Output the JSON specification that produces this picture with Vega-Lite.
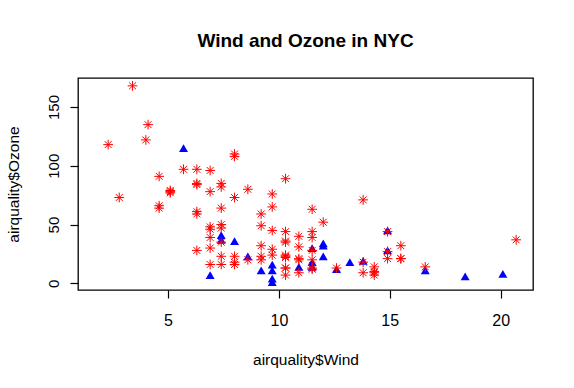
{
  "$schema": "https://vega.github.io/schema/vega-lite/v6.json",
  "autosize": {"type": "none"},
  "padding": {"left": 78, "top": 78, "right": 41, "bottom": 98},
  "width": 455,
  "height": 212,
  "background": "white",
  "title": {
    "text": "Wind and Ozone in NYC",
    "font": "Liberation Sans",
    "fontSize": 19,
    "fontWeight": "bold",
    "color": "black",
    "anchor": "middle",
    "offset": 27
  },
  "config": {
    "view": {"stroke": "black", "strokeWidth": 1.3},
    "axis": {
      "domain": false,
      "grid": false,
      "ticks": true,
      "tickColor": "black",
      "tickSize": 8,
      "tickWidth": 1.2,
      "labelFont": "Liberation Sans",
      "labelColor": "black",
      "titleFont": "Liberation Sans",
      "titleFontSize": 15.5,
      "titleFontWeight": "normal",
      "titleColor": "black"
    }
  },
  "data": {
    "values": [
      {"Wind": 7.4, "Ozone": 41, "Month": 5},
      {"Wind": 8.0, "Ozone": 36, "Month": 5},
      {"Wind": 12.6, "Ozone": 12, "Month": 5},
      {"Wind": 11.5, "Ozone": 18, "Month": 5},
      {"Wind": 14.9, "Ozone": 28, "Month": 5},
      {"Wind": 8.6, "Ozone": 23, "Month": 5},
      {"Wind": 13.8, "Ozone": 19, "Month": 5},
      {"Wind": 20.1, "Ozone": 8, "Month": 5},
      {"Wind": 6.9, "Ozone": 7, "Month": 5},
      {"Wind": 9.7, "Ozone": 16, "Month": 5},
      {"Wind": 9.2, "Ozone": 11, "Month": 5},
      {"Wind": 10.9, "Ozone": 14, "Month": 5},
      {"Wind": 13.2, "Ozone": 18, "Month": 5},
      {"Wind": 11.5, "Ozone": 14, "Month": 5},
      {"Wind": 12.0, "Ozone": 34, "Month": 5},
      {"Wind": 18.4, "Ozone": 6, "Month": 5},
      {"Wind": 11.5, "Ozone": 30, "Month": 5},
      {"Wind": 9.7, "Ozone": 11, "Month": 5},
      {"Wind": 9.7, "Ozone": 1, "Month": 5},
      {"Wind": 16.6, "Ozone": 11, "Month": 5},
      {"Wind": 9.7, "Ozone": 4, "Month": 5},
      {"Wind": 12.0, "Ozone": 32, "Month": 5},
      {"Wind": 12.0, "Ozone": 23, "Month": 5},
      {"Wind": 14.9, "Ozone": 45, "Month": 5},
      {"Wind": 5.7, "Ozone": 115, "Month": 5},
      {"Wind": 7.4, "Ozone": 37, "Month": 5},
      {"Wind": 9.7, "Ozone": 29, "Month": 6},
      {"Wind": 13.8, "Ozone": 71, "Month": 6},
      {"Wind": 11.5, "Ozone": 39, "Month": 6},
      {"Wind": 8.0, "Ozone": 23, "Month": 6},
      {"Wind": 14.9, "Ozone": 21, "Month": 6},
      {"Wind": 20.7, "Ozone": 37, "Month": 6},
      {"Wind": 9.2, "Ozone": 20, "Month": 6},
      {"Wind": 11.5, "Ozone": 12, "Month": 6},
      {"Wind": 10.3, "Ozone": 13, "Month": 6},
      {"Wind": 4.1, "Ozone": 135, "Month": 7},
      {"Wind": 9.2, "Ozone": 49, "Month": 7},
      {"Wind": 9.2, "Ozone": 32, "Month": 7},
      {"Wind": 4.6, "Ozone": 64, "Month": 7},
      {"Wind": 10.9, "Ozone": 40, "Month": 7},
      {"Wind": 5.1, "Ozone": 77, "Month": 7},
      {"Wind": 6.3, "Ozone": 97, "Month": 7},
      {"Wind": 5.7, "Ozone": 97, "Month": 7},
      {"Wind": 7.4, "Ozone": 85, "Month": 7},
      {"Wind": 14.3, "Ozone": 10, "Month": 7},
      {"Wind": 14.9, "Ozone": 27, "Month": 7},
      {"Wind": 14.3, "Ozone": 7, "Month": 7},
      {"Wind": 6.9, "Ozone": 48, "Month": 7},
      {"Wind": 10.3, "Ozone": 35, "Month": 7},
      {"Wind": 6.3, "Ozone": 61, "Month": 7},
      {"Wind": 5.1, "Ozone": 79, "Month": 7},
      {"Wind": 11.5, "Ozone": 63, "Month": 7},
      {"Wind": 6.9, "Ozone": 16, "Month": 7},
      {"Wind": 8.6, "Ozone": 80, "Month": 7},
      {"Wind": 8.0, "Ozone": 108, "Month": 7},
      {"Wind": 8.6, "Ozone": 20, "Month": 7},
      {"Wind": 12.0, "Ozone": 52, "Month": 7},
      {"Wind": 7.4, "Ozone": 82, "Month": 7},
      {"Wind": 7.4, "Ozone": 50, "Month": 7},
      {"Wind": 7.4, "Ozone": 64, "Month": 7},
      {"Wind": 9.2, "Ozone": 59, "Month": 7},
      {"Wind": 6.9, "Ozone": 39, "Month": 8},
      {"Wind": 13.8, "Ozone": 9, "Month": 8},
      {"Wind": 7.4, "Ozone": 16, "Month": 8},
      {"Wind": 6.9, "Ozone": 78, "Month": 8},
      {"Wind": 7.4, "Ozone": 35, "Month": 8},
      {"Wind": 4.6, "Ozone": 66, "Month": 8},
      {"Wind": 4.0, "Ozone": 122, "Month": 8},
      {"Wind": 10.3, "Ozone": 89, "Month": 8},
      {"Wind": 8.0, "Ozone": 110, "Month": 8},
      {"Wind": 11.5, "Ozone": 44, "Month": 8},
      {"Wind": 11.5, "Ozone": 28, "Month": 8},
      {"Wind": 9.7, "Ozone": 65, "Month": 8},
      {"Wind": 10.3, "Ozone": 22, "Month": 8},
      {"Wind": 6.3, "Ozone": 59, "Month": 8},
      {"Wind": 7.4, "Ozone": 23, "Month": 8},
      {"Wind": 10.9, "Ozone": 31, "Month": 8},
      {"Wind": 10.3, "Ozone": 44, "Month": 8},
      {"Wind": 15.5, "Ozone": 21, "Month": 8},
      {"Wind": 14.3, "Ozone": 9, "Month": 8},
      {"Wind": 9.7, "Ozone": 45, "Month": 8},
      {"Wind": 3.4, "Ozone": 168, "Month": 8},
      {"Wind": 8.0, "Ozone": 73, "Month": 8},
      {"Wind": 9.7, "Ozone": 76, "Month": 8},
      {"Wind": 2.3, "Ozone": 118, "Month": 8},
      {"Wind": 6.3, "Ozone": 84, "Month": 8},
      {"Wind": 6.3, "Ozone": 85, "Month": 8},
      {"Wind": 6.9, "Ozone": 96, "Month": 9},
      {"Wind": 5.1, "Ozone": 78, "Month": 9},
      {"Wind": 2.8, "Ozone": 73, "Month": 9},
      {"Wind": 4.6, "Ozone": 91, "Month": 9},
      {"Wind": 7.4, "Ozone": 47, "Month": 9},
      {"Wind": 15.5, "Ozone": 32, "Month": 9},
      {"Wind": 10.9, "Ozone": 20, "Month": 9},
      {"Wind": 10.3, "Ozone": 23, "Month": 9},
      {"Wind": 10.9, "Ozone": 21, "Month": 9},
      {"Wind": 9.7, "Ozone": 24, "Month": 9},
      {"Wind": 14.9, "Ozone": 44, "Month": 9},
      {"Wind": 15.5, "Ozone": 21, "Month": 9},
      {"Wind": 6.3, "Ozone": 28, "Month": 9},
      {"Wind": 10.9, "Ozone": 9, "Month": 9},
      {"Wind": 11.5, "Ozone": 13, "Month": 9},
      {"Wind": 6.9, "Ozone": 46, "Month": 9},
      {"Wind": 13.8, "Ozone": 18, "Month": 9},
      {"Wind": 10.3, "Ozone": 13, "Month": 9},
      {"Wind": 10.3, "Ozone": 24, "Month": 9},
      {"Wind": 8.0, "Ozone": 16, "Month": 9},
      {"Wind": 12.6, "Ozone": 13, "Month": 9},
      {"Wind": 9.2, "Ozone": 23, "Month": 9},
      {"Wind": 10.3, "Ozone": 36, "Month": 9},
      {"Wind": 10.3, "Ozone": 7, "Month": 9},
      {"Wind": 16.6, "Ozone": 14, "Month": 9},
      {"Wind": 6.9, "Ozone": 30, "Month": 9},
      {"Wind": 14.3, "Ozone": 14, "Month": 9},
      {"Wind": 8.0, "Ozone": 18, "Month": 9},
      {"Wind": 11.5, "Ozone": 20, "Month": 9}
    ]
  },
  "encoding": {
    "x": {
      "field": "Wind",
      "type": "quantitative",
      "scale": {"domain": [0.94, 21.46], "nice": false, "zero": false},
      "axis": {
        "values": [5, 10, 15, 20],
        "title": "airquality$Wind",
        "labelFontSize": 16,
        "labelPadding": 14,
        "titlePadding": 24
      }
    },
    "y": {
      "field": "Ozone",
      "type": "quantitative",
      "scale": {"domain": [-5.68, 174.68], "nice": false, "zero": false},
      "axis": {
        "values": [0, 50, 100, 150],
        "title": "airquality$Ozone",
        "labelFontSize": 15,
        "labelAngle": 270,
        "labelAlign": "center",
        "labelBaseline": "bottom",
        "labelPadding": 9,
        "titlePadding": 25
      }
    }
  },
  "layer": [
    {
      "transform": [{"filter": "datum.Month == 5"}],
      "mark": {
        "type": "point",
        "shape": "triangle-up",
        "filled": true,
        "color": "#0000FF",
        "opacity": 1,
        "size": 80
      }
    },
    {
      "transform": [{"filter": "datum.Month != 5"}],
      "mark": {
        "type": "point",
        "shape": "M-1,0L1,0M0,-1L0,1M-0.707,-0.707L0.707,0.707M-0.707,0.707L0.707,-0.707",
        "filled": false,
        "color": "#FF0000",
        "strokeWidth": 1,
        "opacity": 1,
        "size": 95
      }
    }
  ]
}
